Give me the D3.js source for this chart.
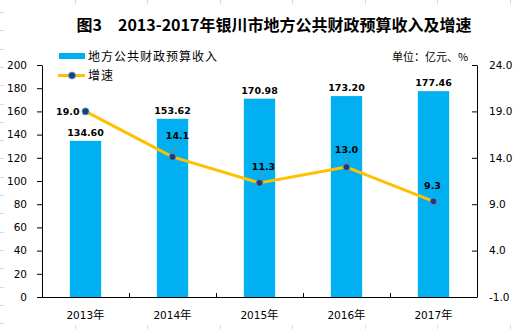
<!DOCTYPE html>
<html>
<head>
<meta charset="utf-8">
<script src="https://cdn.jsdelivr.net/npm/d3@7"></script>
<style>
  body { margin: 0; background: #fff; }
  svg { display: block; }
</style>
</head>
<body>
<div id="chart"></div>
<script>
// données
const annees = ['2013年', '2014年', '2015年', '2016年', '2017年']
const recettes = [134.60, 153.62, 170.98, 173.20, 177.46]
const croissance = [19.0, 14.1, 11.3, 13.0, 9.3]
const ticksGauche = [0, 20, 40, 60, 80, 100, 120, 140, 160, 180, 200]
const ticksDroite = [-1, 4, 9, 14, 19, 24]

const W = 522, H = 329
const mGauche = 42, mDroite = 477, mHaut = 65, mBas = 297
const cjk = '"Noto Sans CJK SC", "Noto Sans", sans-serif'
const num = '"DejaVu Sans", Verdana, sans-serif'

let svg = d3.select('#chart').append('svg')
    .attr('width', W)
    .attr('height', H)

// quadrillage de la feuille (traits pâles sur les bords)
let grille = svg.append('g').attr('stroke', '#d9d9d9').attr('stroke-width', 1)
;[75, 147, 220, 292, 365, 437, 510].forEach(x => {
    grille.append('line').attr('x1', x + 0.5).attr('x2', x + 0.5).attr('y1', 0).attr('y2', 4)
    grille.append('line').attr('x1', x + 0.5).attr('x2', x + 0.5).attr('y1', 325).attr('y2', 329)
})
for (let y = 12; y < 329; y += 18.3) {
    grille.append('line').attr('x1', 0).attr('x2', 4).attr('y1', Math.round(y) + 0.5).attr('y2', Math.round(y) + 0.5)
}

// titre
svg.append('text')
    .attr('x', 274).attr('y', 31)
    .attr('text-anchor', 'middle')
    .attr('font-family', cjk)
    .attr('font-weight', 'bold')
    .attr('font-size', 16)
    .attr('fill', '#000')
    .text('图3　2013-2017年银川市地方公共财政预算收入及增速')

// échelles
let x = d3.scaleBand()
    .domain(annees)
    .range([mGauche, mDroite])
    .padding(0)

let y = d3.scaleLinear().domain([0, 200]).range([mBas, mHaut])
let y2 = d3.scaleLinear().domain([-1, 24]).range([mBas, mHaut])

const largeurBarre = x.bandwidth() * 0.36

// barres
svg.append('g')
    .selectAll('rect')
    .data(recettes)
    .join('rect')
    .attr('x', (d, i) => x(annees[i]) + x.bandwidth() / 2 - largeurBarre / 2)
    .attr('y', d => y(d))
    .attr('width', largeurBarre)
    .attr('height', d => mBas - y(d))
    .attr('fill', '#00b0f0')

// étiquettes des barres
svg.append('g')
    .selectAll('text')
    .data(recettes)
    .join('text')
    .attr('x', (d, i) => x(annees[i]) + x.bandwidth() / 2)
    .attr('y', d => y(d) - 5)
    .attr('text-anchor', 'middle')
    .attr('font-family', num)
    .attr('font-weight', 'bold')
    .attr('font-size', 9.5)
    .attr('fill', '#000')
    .text(d => d.toFixed(2))

// axe gauche
let axeG = svg.append('g')
    .attr('transform', 'translate(' + mGauche + ',0)')
    .call(d3.axisLeft(y).tickValues(ticksGauche).tickSize(5).tickSizeOuter(0).tickPadding(10))
axeG.selectAll('text').attr('font-family', num).attr('font-size', 10.5).attr('fill', '#000')

// axe droit
let axeD = svg.append('g')
    .attr('transform', 'translate(' + mDroite + ',0)')
    .call(d3.axisRight(y2).tickValues(ticksDroite).tickSizeInner(-5).tickSizeOuter(0).tickPadding(12)
        .tickFormat(d => d.toFixed(1)))
axeD.selectAll('text').attr('font-family', num).attr('font-size', 10.5).attr('fill', '#000')

// axe du bas
let axeB = svg.append('g')
axeB.append('line')
    .attr('x1', mGauche).attr('x2', mDroite)
    .attr('y1', mBas + 0.5).attr('y2', mBas + 0.5)
    .attr('stroke', '#000')
annees.slice(1).forEach(a => {
    axeB.append('line')
        .attr('x1', Math.round(x(a)) + 0.5).attr('x2', Math.round(x(a)) + 0.5)
        .attr('y1', mBas).attr('y2', mBas - 4)
        .attr('stroke', '#000')
})
axeB.selectAll('text.annee')
    .data(annees)
    .join('text')
    .attr('class', 'annee')
    .attr('x', d => x(d) + x.bandwidth() / 2)
    .attr('y', 319)
    .attr('text-anchor', 'middle')
    .attr('font-family', num)
    .attr('font-size', 10.5)
    .attr('fill', '#000')
    .each(function (d) {
        d3.select(this).append('tspan').text(d.replace('年', ''))
        d3.select(this).append('tspan').attr('font-family', cjk).attr('font-size', 11.5).text('年')
    })

// ligne de croissance
let cx = (d, i) => x(annees[i]) + x.bandwidth() / 2
svg.append('path')
    .datum(croissance)
    .attr('d', d3.line().x(cx).y(d => y2(d)))
    .attr('fill', 'none')
    .attr('stroke', '#ffc000')
    .attr('stroke-width', 3)
    .attr('stroke-linejoin', 'round')

// traits de rappel
const decalages = [null, [5, -14], [4, -11], [0, -11], null]
decalages.forEach((o, i) => {
    if (!o) return
    svg.append('line')
        .attr('x1', cx(0, i)).attr('y1', y2(croissance[i]) - 2)
        .attr('x2', cx(0, i) + o[0]).attr('y2', y2(croissance[i]) + o[1])
        .attr('stroke', '#8c8c8c')
        .attr('stroke-width', 0.8)
})

svg.append('g')
    .selectAll('circle')
    .data(croissance)
    .join('circle')
    .attr('cx', cx)
    .attr('cy', d => y2(d))
    .attr('r', 3.5)
    .attr('fill', '#1f3f6e')
    .attr('stroke', '#5b9bd5')
    .attr('stroke-width', 1)

// étiquettes de croissance
const posEtiquettes = [[-6, 4, 'end'], [5, -18, 'middle'], [4, -13, 'middle'], [0, -14, 'middle'], [-1, -12, 'middle']]
svg.append('g')
    .selectAll('text')
    .data(croissance)
    .join('text')
    .attr('x', (d, i) => cx(d, i) + posEtiquettes[i][0])
    .attr('y', (d, i) => y2(d) + posEtiquettes[i][1])
    .attr('text-anchor', (d, i) => posEtiquettes[i][2])
    .attr('font-family', num)
    .attr('font-weight', 'bold')
    .attr('font-size', 9.5)
    .attr('fill', '#000')
    .text(d => d.toFixed(1))

// légende
let leg = svg.append('g')
leg.append('rect')
    .attr('x', 59).attr('y', 53).attr('width', 26).attr('height', 6)
    .attr('fill', '#00b0f0')
leg.append('text')
    .attr('x', 88).attr('y', 60.5)
    .attr('font-family', cjk).attr('font-size', 12).attr('letter-spacing', 1)
    .attr('fill', '#000')
    .text('地方公共财政预算收入')
leg.append('line')
    .attr('x1', 58).attr('x2', 85).attr('y1', 75.5).attr('y2', 75.5)
    .attr('stroke', '#ffc000').attr('stroke-width', 3)
leg.append('circle')
    .attr('cx', 72).attr('cy', 75.5).attr('r', 3.5)
    .attr('fill', '#1f3f6e').attr('stroke', '#5b9bd5')
leg.append('text')
    .attr('x', 88).attr('y', 80)
    .attr('font-family', cjk).attr('font-size', 12).attr('letter-spacing', 1)
    .attr('fill', '#000')
    .text('增速')

// unité
svg.append('text')
    .attr('x', 392).attr('y', 61)
    .attr('font-family', cjk).attr('font-size', 11)
    .attr('fill', '#000')
    .text('单位：亿元、%')
</script>
</body>
</html>
